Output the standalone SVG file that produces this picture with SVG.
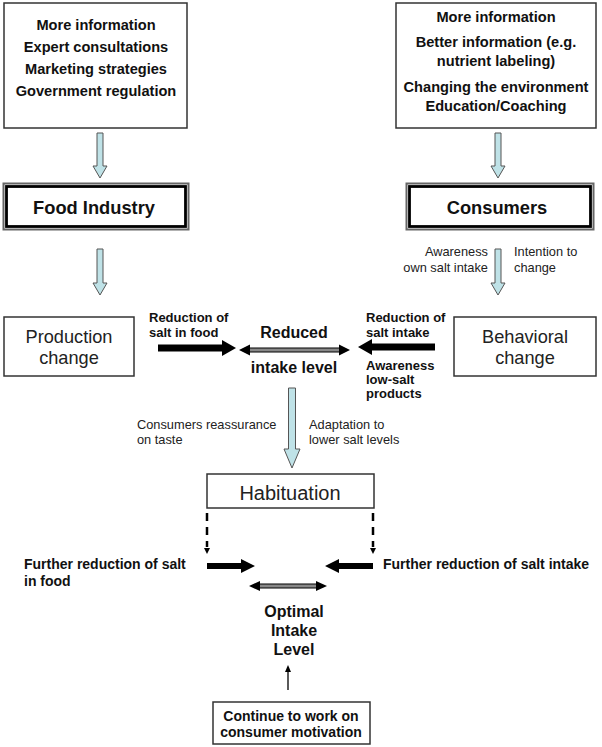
<svg xmlns="http://www.w3.org/2000/svg" width="602" height="747" viewBox="0 0 602 747">
<style>
.box{fill:#fff;stroke:#333;stroke-width:1.5}
.b14{font-family:"Liberation Sans",Arial,sans-serif;font-weight:bold;font-size:14px;fill:#111}
.t14{font-family:"Liberation Sans",Arial,sans-serif;font-weight:bold;font-size:14.6px;fill:#111}
.b13{font-family:"Liberation Sans",Arial,sans-serif;font-weight:bold;font-size:13px;fill:#111}
.b16{font-family:"Liberation Sans",Arial,sans-serif;font-weight:bold;font-size:16px;fill:#111}
.b18{font-family:"Liberation Sans",Arial,sans-serif;font-weight:bold;font-size:18.3px;fill:#111}
.r13{font-family:"Liberation Sans",Arial,sans-serif;font-size:12.8px;fill:#222}
.r18{font-family:"Liberation Sans",Arial,sans-serif;font-size:18.2px;fill:#222}
.r20{font-family:"Liberation Sans",Arial,sans-serif;font-size:20px;fill:#222}
.mid{text-anchor:middle}
.end{text-anchor:end}
.blue{fill:#bfe2e7;stroke:#555;stroke-width:1}
.blk{fill:#000}
.dash{stroke:#000;stroke-width:2.5;stroke-dasharray:8 6;fill:none}
.dbl{fill:#888;stroke:#000;stroke-width:1}
</style>

<g id="top-left">
<rect class="box" x="4" y="3" width="183" height="125"/>
<text class="t14 mid" x="96" y="30">More information</text>
<text class="t14 mid" x="96" y="52">Expert consultations</text>
<text class="t14 mid" x="96" y="74">Marketing strategies</text>
<text class="t14 mid" x="96" y="96">Government regulation</text>
</g>

<g id="top-right">
<rect class="box" x="396" y="3" width="200" height="125"/>
<text class="t14 mid" x="496" y="22">More information</text>
<text class="t14 mid" x="496" y="47">Better information (e.g.</text>
<text class="t14 mid" x="496" y="66">nutrient labeling)</text>
<text class="t14 mid" x="496" y="92">Changing the environment</text>
<text class="t14 mid" x="496" y="111">Education/Coaching</text>
</g>

<g id="food-industry">
<rect x="3.5" y="183.5" width="185" height="46" fill="#fff" stroke="#666" stroke-width="2"/>
<rect x="6.5" y="186.5" width="179" height="40" fill="none" stroke="#000" stroke-width="2.8"/>
<text class="b18 mid" x="94" y="214">Food Industry</text>
</g>

<g id="consumers">
<rect x="406.5" y="183.5" width="187" height="46" fill="#fff" stroke="#666" stroke-width="2"/>
<rect x="409.5" y="186.5" width="181" height="40" fill="none" stroke="#000" stroke-width="2.8"/>
<text class="b18 mid" x="497" y="214">Consumers</text>
</g>

<g id="production-change">
<rect class="box" x="4" y="317" width="130" height="59"/>
<text class="r18 mid" x="69" y="343">Production</text>
<text class="r18 mid" x="69" y="364">change</text>
</g>

<g id="behavioral-change">
<rect class="box" x="454" y="317" width="142" height="59"/>
<text class="r18 mid" x="525" y="343">Behavioral</text>
<text class="r18 mid" x="525" y="364">change</text>
</g>

<g id="reduced-intake">
<text class="b16 mid" x="294" y="338">Reduced</text>
<text class="b16 mid" x="294" y="373">intake level</text>
</g>

<g id="habituation">
<rect class="box" x="207" y="474" width="167" height="34"/>
<text class="r20 mid" x="290" y="500">Habituation</text>
</g>

<g id="optimal-intake">
<text class="b16 mid" x="294" y="617">Optimal</text>
<text class="b16 mid" x="294" y="636">Intake</text>
<text class="b16 mid" x="294" y="655">Level</text>
</g>

<g id="motivation">
<rect class="box" x="213" y="702" width="157" height="42"/>
<text class="b14 mid" x="291" y="721">Continue to work on</text>
<text class="b14 mid" x="291" y="737">consumer motivation</text>
</g>

<g id="connectors">
<path class="blue" d="M97,133 H103 V166 H107 L100,178 L93,166 H97 Z"/>
<path class="blue" d="M495,133 H501 V166 H505 L498,178 L491,166 H495 Z"/>
<path class="blue" d="M97,249 H103 V283 H107 L100,295 L93,283 H97 Z"/>
<path class="blue" d="M495,249 H501 V283 H505 L498,295 L491,283 H495 Z"/>
<path class="blue" d="M288.5,388 H295.5 V449 H300 L292,468 L284,449 H288.5 Z"/>

<path class="blk" d="M158,344.5 H222 V340 L236,348 L222,356 V351.5 H158 Z"/>
<path class="blk" d="M435,343.5 H372 V339 L358,347 L372,355 V350.5 H435 Z"/>
<path class="blk" d="M207,563 H241 V559 L255,566 L241,573 V569 H207 Z"/>
<path class="blk" d="M373,563 H339 V559 L325,566 L339,573 V569 H373 Z"/>

<rect class="dbl" x="247" y="348" width="95" height="4"/>
<path class="blk" d="M239,350 L250,344.5 V355.5 Z"/>
<path class="blk" d="M350,350 L339,344.5 V355.5 Z"/>
<rect class="dbl" x="257" y="584" width="62" height="4"/>
<path class="blk" d="M249,586 L260,581 V591 Z"/>
<path class="blk" d="M327,586 L316,581 V591 Z"/>

<line class="dash" x1="207" y1="513" x2="207" y2="547"/>
<path class="blk" d="M204,548 H210 L207,554 Z"/>
<line class="dash" x1="373" y1="513" x2="373" y2="547"/>
<path class="blk" d="M370,548 H376 L373,554 Z"/>

<line x1="288" y1="690" x2="288" y2="671" stroke="#000" stroke-width="1.3"/>
<path class="blk" d="M288,665 L291,672 H285 Z"/>
</g>

<g id="labels">
<text class="r13 end" x="488" y="256">Awareness</text>
<text class="r13 end" x="488" y="272">own salt intake</text>
<text class="r13" x="514" y="256">Intention to</text>
<text class="r13" x="514" y="272">change</text>

<text class="b13" x="149" y="322">Reduction of</text>
<text class="b13" x="149" y="337">salt in food</text>

<text class="b13" x="366" y="322">Reduction of</text>
<text class="b13" x="366" y="337">salt intake</text>
<text class="b13" x="366" y="370">Awareness</text>
<text class="b13" x="366" y="384">low-salt</text>
<text class="b13" x="366" y="398">products</text>

<text class="r13" x="137" y="429">Consumers reassurance</text>
<text class="r13" x="137" y="444">on taste</text>
<text class="r13" x="309" y="429">Adaptation to</text>
<text class="r13" x="309" y="444">lower salt levels</text>

<text class="b14" x="24" y="569">Further reduction of salt</text>
<text class="b14" x="24" y="586">in food</text>
<text class="b14" x="383" y="569">Further reduction of salt intake</text>
</g>
</svg>
